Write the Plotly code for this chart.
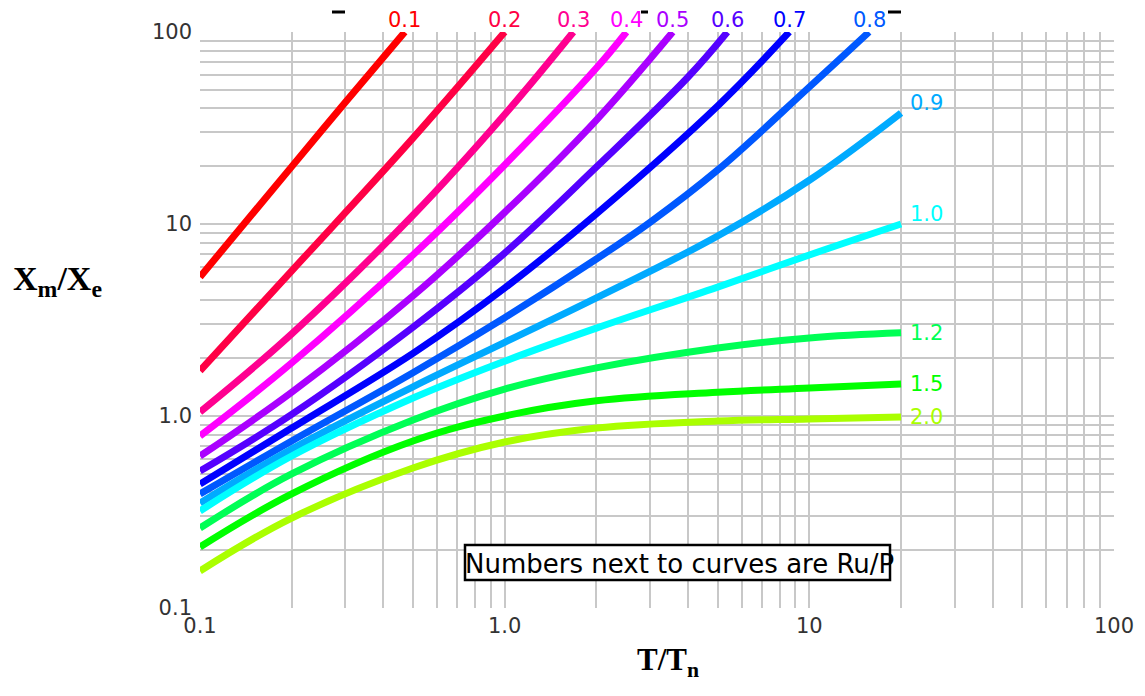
import math
import plotly.graph_objects as go

# Ru/P values labelling each curve
ratios = ["0.1", "0.2", "0.3", "0.4", "0.5", "0.6", "0.7", "0.8", "0.9", "1.0", "1.2", "1.5", "2.0"]

# T/Tn values and Xm/Xe values, one pair per curve
x_r01 = [0.1, 0.2, 0.3, 0.47]
y_r01 = [5.3, 19.9, 43.0, 100.0]

x_r02 = [0.1, 0.2, 0.5, 1.0]
y_r02 = [1.72, 5.70, 28.0, 100.0]

x_r03 = [0.1, 0.2, 0.5, 1.0, 1.68]
y_r03 = [1.05, 2.68, 11.1, 37.2, 100.0]

x_r04 = [0.1, 0.2, 0.5, 1.0, 2.0, 2.51]
y_r04 = [0.787, 1.89, 6.90, 20.3, 64.9, 100.0]

x_r05 = [0.1, 0.2, 0.5, 1.0, 2.0, 3.56]
y_r05 = [0.619, 1.33, 4.22, 11.5, 34.8, 100.0]

x_r06 = [0.1, 0.2, 0.5, 1.0, 2.0, 4.0, 5.38]
y_r06 = [0.517, 1.02, 2.90, 7.06, 19.8, 58.3, 100.0]

x_r07 = [0.1, 0.2, 0.5, 1.0, 2.0, 5.0, 8.59]
y_r07 = [0.442, 0.866, 2.12, 4.64, 11.3, 41.2, 100.0]

x_r08 = [0.1, 0.2, 0.5, 1.0, 2.0, 3.0, 5.0, 10.0, 15.7]
y_r08 = [0.393, 0.741, 1.68, 3.25, 6.57, 10.2, 19.1, 51.7, 100.0]

x_r09 = [0.1, 0.2, 0.5, 1.0, 2.0, 5.0, 10.0, 20.0]
y_r09 = [0.352, 0.673, 1.42, 2.42, 4.12, 8.66, 16.9, 37.9]

x_r10 = [0.1, 0.2, 0.5, 1.0, 2.0, 5.0, 10.0, 20.0]
y_r10 = [0.320, 0.619, 1.24, 1.93, 2.87, 4.69, 6.90, 10.0]

x_r12 = [0.1, 0.2, 0.5, 1.0, 2.0, 5.0, 10.0, 20.0]
y_r12 = [0.261, 0.499, 0.953, 1.38, 1.78, 2.26, 2.55, 2.71]

x_r15 = [0.1, 0.2, 0.5, 1.0, 2.0, 5.0, 10.0, 20.0]
y_r15 = [0.208, 0.393, 0.741, 1.00, 1.20, 1.33, 1.40, 1.47]

x_r20 = [0.1, 0.2, 0.5, 1.0, 2.0, 5.0, 10.0, 20.0]
y_r20 = [0.156, 0.294, 0.536, 0.732, 0.866, 0.942, 0.965, 0.988]

xs = [x_r01, x_r02, x_r03, x_r04, x_r05, x_r06, x_r07, x_r08, x_r09, x_r10, x_r12, x_r15, x_r20]
ys = [y_r01, y_r02, y_r03, y_r04, y_r05, y_r06, y_r07, y_r08, y_r09, y_r10, y_r12, y_r15, y_r20]

colors = ["#ff0000", "#ff0044", "#ff0090", "#ff00ff", "#aa00ff", "#5500ff", "#0000ff",
          "#0058ff", "#00aaff", "#00ffff", "#00ff55", "#00ff00", "#aaff00"]

x_tick_vals = [0.1, 1, 10, 100]
x_tick_text = ["0.1", "1.0", "10", "100"]
y_tick_vals = [0.1, 1, 10, 100]
y_tick_text = ["0.1", "1.0", "10", "100"]

note_text = "Numbers next to curves are Ru/P"

# page is drawn with an 8px body margin: plot area spans page px 200..1114 x 32..608
FW, FH = 1137, 688
PL, PR, PT, PB = 200, 1114, 32, 608
PW, PH = PR - PL, PB - PT


def px(xp):
    return (xp - PL) / PW


def py(yp):
    return (PB - yp) / PH


fig = go.Figure()
for xv, yv, c, r in zip(xs, ys, colors, ratios):
    fig.add_trace(go.Scatter(x=xv, y=yv, mode="lines", name=r,
                             line=dict(color=c, width=7, shape="spline", smoothing=1.1),
                             showlegend=False, hoverinfo="skip"))

# curve labels
label_font = "DejaVu Sans"
for xv, yv, c, r in zip(xs, ys, colors, ratios):
    if yv[-1] >= 100:
        fig.add_annotation(x=math.log10(xv[-1]), xref="x", y=1, yref="paper", text=r,
                           showarrow=False, xanchor="center", yanchor="middle", yshift=12,
                           font=dict(family=label_font, size=21, color=c))
    else:
        ysh = 10 if yv[-1] > 5 else 0
        fig.add_annotation(x=math.log10(xv[-1]), xref="x", y=math.log10(yv[-1]), yref="y",
                           text=r, showarrow=False, xanchor="left", yanchor="middle",
                           xshift=7, yshift=ysh,
                           font=dict(family=label_font, size=21, color=c))

# remnants of a clipped title along the top edge
for a, b in [(332, 345), (641, 648), (888, 901)]:
    fig.add_shape(type="line", xref="paper", yref="paper",
                  x0=px(a), x1=px(b), y0=py(12), y1=py(12),
                  line=dict(color="black", width=3))

# note box
fig.add_shape(type="rect", xref="paper", yref="paper",
              x0=px(465), x1=px(890), y0=py(580), y1=py(545),
              line=dict(color="black", width=2.5), fillcolor="white", layer="above")
fig.add_annotation(x=px(679), xref="paper", y=py(564), yref="paper",
                   text=note_text, showarrow=False, xanchor="center", yanchor="middle",
                   font=dict(family="DejaVu Sans", size=26, color="black"))

# axis titles
fig.add_annotation(x=px(11), xref="paper", y=py(281), yref="paper",
                   text="<b>X<sub>m</sub>/X<sub>e</sub></b>", showarrow=False,
                   xanchor="left", yanchor="middle",
                   font=dict(family="Liberation Serif", size=34, color="black"))
fig.add_annotation(x=px(668), xref="paper", y=py(662), yref="paper",
                   text="<b>T/T<sub>n</sub></b>", showarrow=False,
                   xanchor="center", yanchor="middle",
                   font=dict(family="Liberation Serif", size=31, color="black"))

grid_minor = [m * 10 ** e for e in (-1, 0, 1) for m in range(2, 10)]
grid_col = "#c8c8c8"

fig.update_xaxes(type="log", range=[-1, 2], tickmode="array", tickvals=x_tick_vals,
                 ticktext=x_tick_text, showgrid=False, zeroline=False, showline=False,
                 ticks="", ticklabelstandoff=3,
                 tickfont=dict(family="DejaVu Sans", size=21, color="#333333"),
                 minor=dict(tickmode="array", tickvals=grid_minor + [1, 10, 100],
                            showgrid=True, gridcolor=grid_col, gridwidth=1.5, ticks=""))
fig.update_yaxes(type="log", range=[-1, 2], tickmode="array", tickvals=y_tick_vals,
                 ticktext=y_tick_text, showgrid=False, zeroline=False, showline=False,
                 ticks="", ticklabelstandoff=7,
                 tickfont=dict(family="DejaVu Sans", size=21, color="#333333"),
                 minor=dict(tickmode="array", tickvals=grid_minor + [1, 10],
                            showgrid=True, gridcolor=grid_col, gridwidth=1.5, ticks=""))

fig.update_layout(width=FW, height=FH,
                  margin=dict(l=PL - 8, r=FW - (PR - 8), t=PT - 8, b=FH - (PB - 8)),
                  plot_bgcolor="white", paper_bgcolor="white")

fig.write_html("out.html")
